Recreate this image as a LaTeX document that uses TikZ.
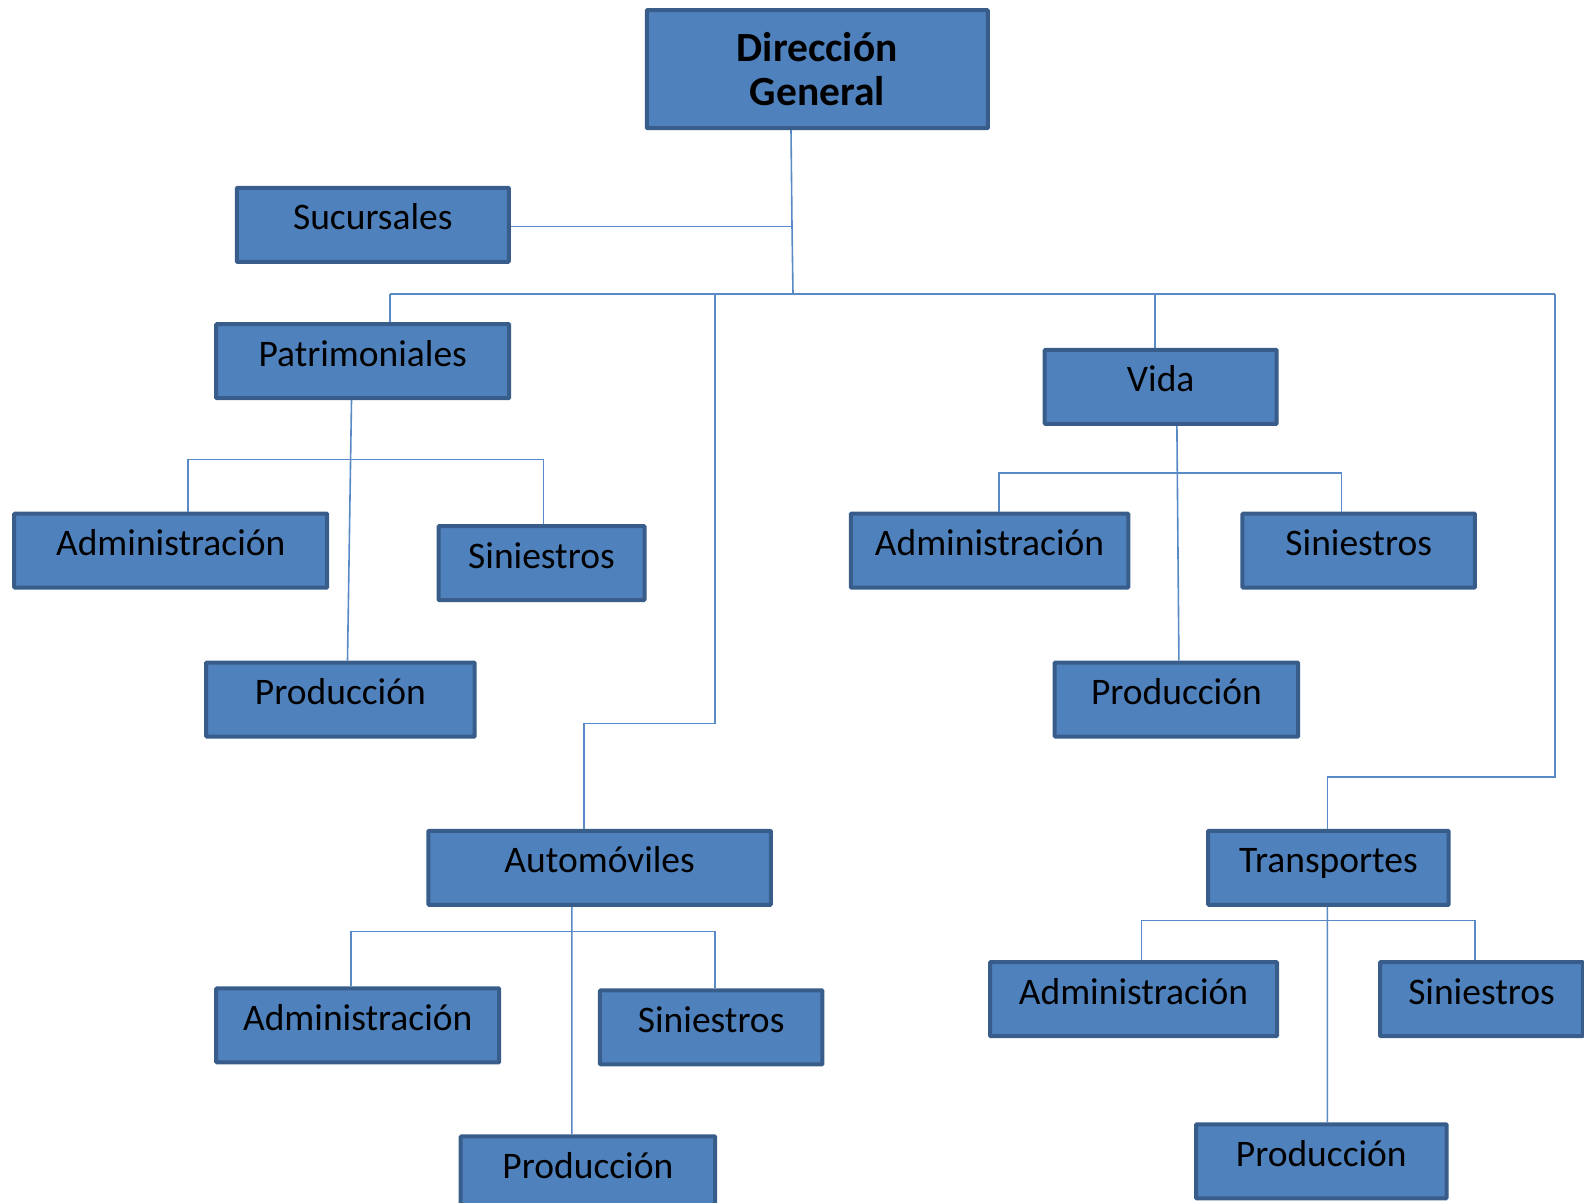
\documentclass[tikz,border=0pt]{standalone}
\usepackage{fontspec}
\setmainfont{Carlito}
\definecolor{boxfill}{HTML}{4F81BD}
\definecolor{boxline}{HTML}{385D8A}
\definecolor{linkcol}{HTML}{5A8AC6}
\begin{document}
\begin{tikzpicture}[x=1pt,y=-1pt,
  unit/.style={draw=boxline, fill=boxfill, line width=4pt, rounded corners=0.8pt,
    inner sep=0pt, text height=21pt, text depth=11pt,
    font=\fontsize{37.5}{44}\selectfont, minimum height=74pt},
  link/.style={draw=linkcol, line width=1.6pt}]
\useasboundingbox (0,0) rectangle (1584,1202);

% top level
\node[unit, font=\bfseries\fontsize{41.5}{44.5}\selectfont, align=center,
  text height=, text depth=, minimum width=341pt, minimum height=118pt] (dg) at (817.3,69.2) {Dirección\\General};
\node[unit, minimum width=272pt] (suc) at (372.8,224.8) {Sucursales};

% departments
\node[unit, minimum width=293pt] (pat) at (362.7,361.2) {Patrimoniales};
\node[unit, minimum width=232pt] (vida) at (1160.7,386.9) {Vida};
\node[unit, minimum width=342.5pt] (auto) at (599.6,867.8) {Automóviles};
\node[unit, minimum width=240.5pt] (trans) at (1328.4,867.8) {Transportes};

% Patrimoniales
\node[unit, minimum width=313pt] (padm) at (170.7,550.6) {Administración};
\node[unit, minimum width=206pt] (psin) at (541.5,563.2) {Siniestros};
\node[unit, minimum width=268.5pt] (pprod) at (340.4,699.6) {Producción};

% Vida
\node[unit, minimum width=277.5pt] (vadm) at (989.5,550.6) {Administración};
\node[unit, minimum width=232.5pt] (vsin) at (1358.7,550.6) {Siniestros};
\node[unit, minimum width=243.5pt] (vprod) at (1176.4,699.6) {Producción};

% Automóviles
\node[unit, minimum width=283pt] (aadm) at (357.7,1025.4) {Administración};
\node[unit, minimum width=222.5pt] (asin) at (711.2,1027.4) {Siniestros};
\node[unit, minimum width=254.5pt] (aprod) at (587.9,1173.4) {Producción};

% Transportes
\node[unit, minimum width=287pt] (tadm) at (1133.5,999.1) {Administración};
\node[unit, minimum width=203pt] (tsin) at (1481.5,999.1) {Siniestros};
\node[unit, minimum width=250.5pt] (tprod) at (1321.3,1161.3) {Producción};

% junction points
\coordinate (jsuc) at (792,226.3);
\coordinate (j0) at (793,294);
\coordinate (bl) at (389.9,294);
\coordinate (br) at (1554.7,294);
\coordinate (ja1) at (715.2,294);
\coordinate (ja2) at (715.2,723.3);
\coordinate (ja3) at (583.9,723.3);
\coordinate (jv) at (1154.7,294);
\coordinate (jt1) at (1554.7,776.8);
\coordinate (jt2) at (1327.4,776.8);

% main trunk
\draw[link] ([xshift=-26.3pt]dg.south) -- (jsuc) -- (j0);
\draw[link] (suc.east |- jsuc) -- (jsuc);
\draw[link] (bl) -- (br);
\draw[link] (bl) -- (pat.north -| bl);
\draw[link] (ja1) -- (ja2) -- (ja3) -- (auto.north -| ja3);
\draw[link] (jv) -- (vida.north -| jv);
\draw[link] (br) -- (jt1) -- (jt2) -- (trans.north -| jt2);

% Patrimoniales branch
\coordinate (pb1) at (187.9,459.6);
\coordinate (pb2) at (543.5,459.6);
\draw[link] ([xshift=-11.2pt]pat.south) -- ([xshift=7.1pt]pprod.north);
\draw[link] (padm.north -| pb1) -- (pb1) -- (pb2) -- (psin.north -| pb2);

% Vida branch
\coordinate (vb1) at (999.1,472.8);
\coordinate (vb2) at (1341.5,472.8);
\draw[link] ([xshift=16.2pt]vida.south) -- ([xshift=2.5pt]vprod.north);
\draw[link] (vadm.north -| vb1) -- (vb1) -- (vb2) -- (vsin.north -| vb2);

% Automóviles branch
\coordinate (ab1) at (351,931.4);
\coordinate (ab2) at (715.2,931.4);
\draw[link] ([xshift=-27.8pt]auto.south) -- ([xshift=-16.1pt]aprod.north);
\draw[link] (aadm.north -| ab1) -- (ab1) -- (ab2) -- (asin.north -| ab2);

% Transportes branch
\coordinate (tb1) at (1141.5,920.3);
\coordinate (tb2) at (1474.9,920.3);
\draw[link] ([xshift=-1pt]trans.south) -- ([xshift=6.1pt]tprod.north);
\draw[link] (tadm.north -| tb1) -- (tb1) -- (tb2) -- (tsin.north -| tb2);
\end{tikzpicture}
\end{document}
